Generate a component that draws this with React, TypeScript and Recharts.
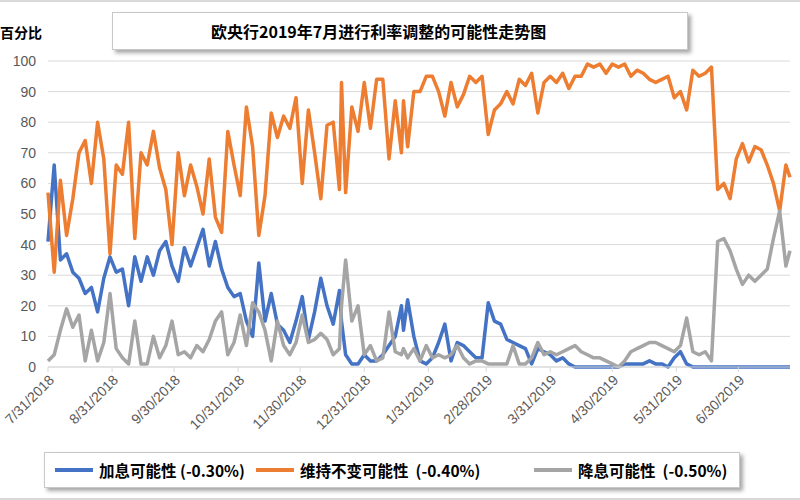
import { CartesianGrid, Line, LineChart, XAxis, YAxis } from "recharts";

// day offsets from 2018-07-31
const days = [
  0, 3, 6, 9, 12, 15, 18, 21, 24, 27,
  30, 33, 36, 39, 42, 45, 48, 51, 54, 57,
  60, 63, 66, 69, 72, 75, 78, 81, 84, 87,
  90, 93, 96, 99, 102, 105, 108, 111, 114, 117,
  120, 123, 126, 129, 132, 135, 138, 141, 142, 144,
  147, 150, 153, 156, 159, 162, 165, 168, 171, 172,
  174, 177, 180, 183, 186, 189, 192, 195, 198, 201,
  204, 207, 210, 213, 216, 219, 222, 225, 228, 231,
  234, 237, 240, 243, 246, 249, 252, 255, 258, 261,
  264, 267, 270, 273, 276, 279, 282, 285, 288, 291,
  294, 297, 300, 303, 306, 309, 312, 315, 318, 321,
  324, 327, 330, 333, 336, 339, 342, 345, 348, 351,
  354, 357, 359,
];

// 加息可能性 (-0.30%)
const hikeOdds = [
  41, 66, 35, 37, 31, 29, 24, 26, 18, 29,
  36, 31, 32, 20, 36, 28, 36, 30, 38, 41,
  33, 28, 39, 33, 39, 45, 33, 41, 32, 26,
  23, 24, 15, 10, 34, 15, 24, 14, 12, 8,
  15, 23, 9, 18, 29, 20, 14, 25, 15, 4,
  1, 1, 4, 2, 2, 4, 7, 10, 20, 12,
  22, 10, 2, 1, 3, 8, 14, 2, 8, 7,
  5, 3, 3, 21, 15, 14, 9, 8, 7, 6,
  1, 6, 5, 4, 2, 3, 1, 0, 0, 0,
  0, 0, 0, 0, 0, 1, 1, 1, 1, 2,
  1, 1, 0, 3, 5, 1, 0, 0, 0, 0,
  0, 0, 0, 0, 0, 0, 0, 0, 0, 0,
  0, 0, 0,
];

// 维持不变可能性 (-0.40%)
const holdOdds = [
  57, 31, 61, 43, 55, 70, 74, 60, 80, 68,
  37, 66, 63, 80, 42, 70, 66, 77, 65, 58,
  40, 70, 56, 66, 59, 50, 68, 49, 44, 77,
  66, 56, 85, 72, 43, 56, 83, 75, 82, 78,
  88, 60, 84, 70, 55, 79, 80, 58, 93, 57,
  85, 77, 93, 78, 94, 94, 68, 87, 70, 87,
  72, 90, 90, 95, 95, 90, 82, 93, 85, 89,
  95, 93, 95, 76, 84, 86, 90, 86, 94, 92,
  96, 83, 93, 95, 93, 96, 91, 95, 95, 99,
  98, 99, 96, 99, 98, 99, 95, 97, 96, 94,
  93, 94, 95, 88, 90, 84, 97, 95, 96, 98,
  58, 60, 55, 68, 73, 67, 72, 71, 66, 60,
  51, 66, 62,
];

// 降息可能性 (-0.50%)
const cutOdds = [
  2, 4, 12, 19, 13, 17, 2, 12, 2, 8,
  24, 6, 3, 1, 15, 1, 1, 10, 3, 7,
  15, 4, 5, 3, 7, 5, 9, 15, 18, 4,
  8, 17, 7, 21, 18, 12, 2, 15, 7, 4,
  8, 17, 8, 9, 11, 9, 4, 6, 20, 35,
  15, 20, 4, 7, 2, 3, 18, 5, 4, 6,
  3, 6, 2, 7, 3, 4, 3, 4, 7, 3,
  1, 2, 2, 1, 1, 1, 1, 7, 1, 1,
  3, 8, 4, 5, 4, 5, 6, 7, 5, 4,
  3, 3, 2, 1, 0, 2, 5, 6, 7, 8,
  8, 7, 6, 5, 7, 16, 5, 4, 5, 2,
  41, 42, 38, 32, 27, 30, 28, 30, 32, 42,
  51, 33, 38,
];

const monthEndDays = [0, 31, 61, 92, 122, 153, 184, 212, 243, 273, 304, 334];
const monthEndLabels = [
  "7/31/2018", "8/31/2018", "9/30/2018", "10/31/2018", "11/30/2018", "12/31/2018",
  "1/31/2019", "2/28/2019", "3/31/2019", "4/30/2019", "5/31/2019", "6/30/2019",
];
const yTicks = [0, 10, 20, 30, 40, 50, 60, 70, 80, 90, 100];

const SERIES = [
  { key: "hike", name: "加息可能性 (-0.30%)", color: "#4472C4", left: 10 },
  { key: "hold", name: "维持不变可能性  (-0.40%)", color: "#ED7D31", left: 211 },
  { key: "cut", name: "降息可能性  (-0.50%)", color: "#A5A5A5", left: 489 },
];

const data = days.map((day, i) => ({
  day,
  hike: hikeOdds[i],
  hold: holdOdds[i],
  cut: cutOdds[i],
}));

const FONT = "'Liberation Sans', Arial, sans-serif";
const CJK = "'Noto Sans CJK SC', 'Liberation Sans', sans-serif";

const boxStyle = {
  position: "absolute" as const,
  background: "white",
  border: "1px solid #c8c8c8",
  boxShadow: "3px 3px 4px rgba(0,0,0,0.35)",
};

export default function App() {
  return (
    <div
      style={{
        position: "absolute",
        left: 0,
        top: 0,
        width: 800,
        height: 500,
        background: "white",
        borderTop: "2px solid #d9d9d9",
        borderBottom: "2px solid #d9d9d9",
        boxSizing: "border-box",
        overflow: "hidden",
      }}
    >
      <LineChart
        width={800}
        height={496}
        data={data}
        margin={{ top: 59, right: 10, bottom: 61, left: 0 }}
      >
        <CartesianGrid vertical={false} stroke="#d9d9d9" />
        <XAxis
          dataKey="day"
          type="number"
          domain={[0, 359]}
          ticks={monthEndDays}
          tickFormatter={(v: number) => monthEndLabels[monthEndDays.indexOf(v)]}
          interval={0}
          height={70}
          angle={-45}
          textAnchor="end"
          tickSize={5}
          tickMargin={2}
          stroke="#d9d9d9"
          tick={{ fill: "#595959", fontSize: 14, fontFamily: FONT }}
        />
        <YAxis
          domain={[0, 100]}
          ticks={yTicks}
          width={48}
          axisLine={false}
          tickLine={false}
          tickSize={0}
          tickMargin={12}
          tick={{ fill: "#595959", fontSize: 14, fontFamily: FONT }}
        />
        {SERIES.map((s) => (
          <Line
            key={s.key}
            dataKey={s.key}
            name={s.name}
            stroke={s.color}
            strokeWidth={3.5}
            strokeLinejoin="round"
            dot={false}
            isAnimationActive={false}
          />
        ))}
      </LineChart>

      <div
        style={{
          position: "absolute",
          left: 0,
          top: 20,
          fontFamily: CJK,
          fontWeight: 700,
          fontSize: 14,
          color: "#000",
        }}
      >
        百分比
      </div>

      <div
        style={{
          ...boxStyle,
          left: 112,
          top: 10,
          width: 576,
          height: 38,
          display: "flex",
          alignItems: "center",
          paddingLeft: 98,
          boxSizing: "border-box",
          fontFamily: CJK,
          fontWeight: 700,
          fontSize: 16,
        }}
      >
        欧央行2019年7月进行利率调整的可能性走势图
      </div>

      <div
        style={{
          ...boxStyle,
          left: 44,
          top: 450,
          width: 694,
          height: 34,
          fontFamily: CJK,
          fontWeight: 700,
          fontSize: 15.5,
        }}
      >
        {SERIES.map((s) => (
          <div
            key={s.key}
            style={{
              display: "flex",
              alignItems: "center",
              position: "absolute",
              left: s.left,
              top: 0,
              height: 34,
            }}
          >
            <div style={{ width: 38, height: 3.5, background: s.color, marginRight: 6 }} />
            <span style={{ whiteSpace: "pre" }}>{s.name}</span>
          </div>
        ))}
      </div>
    </div>
  );
}
